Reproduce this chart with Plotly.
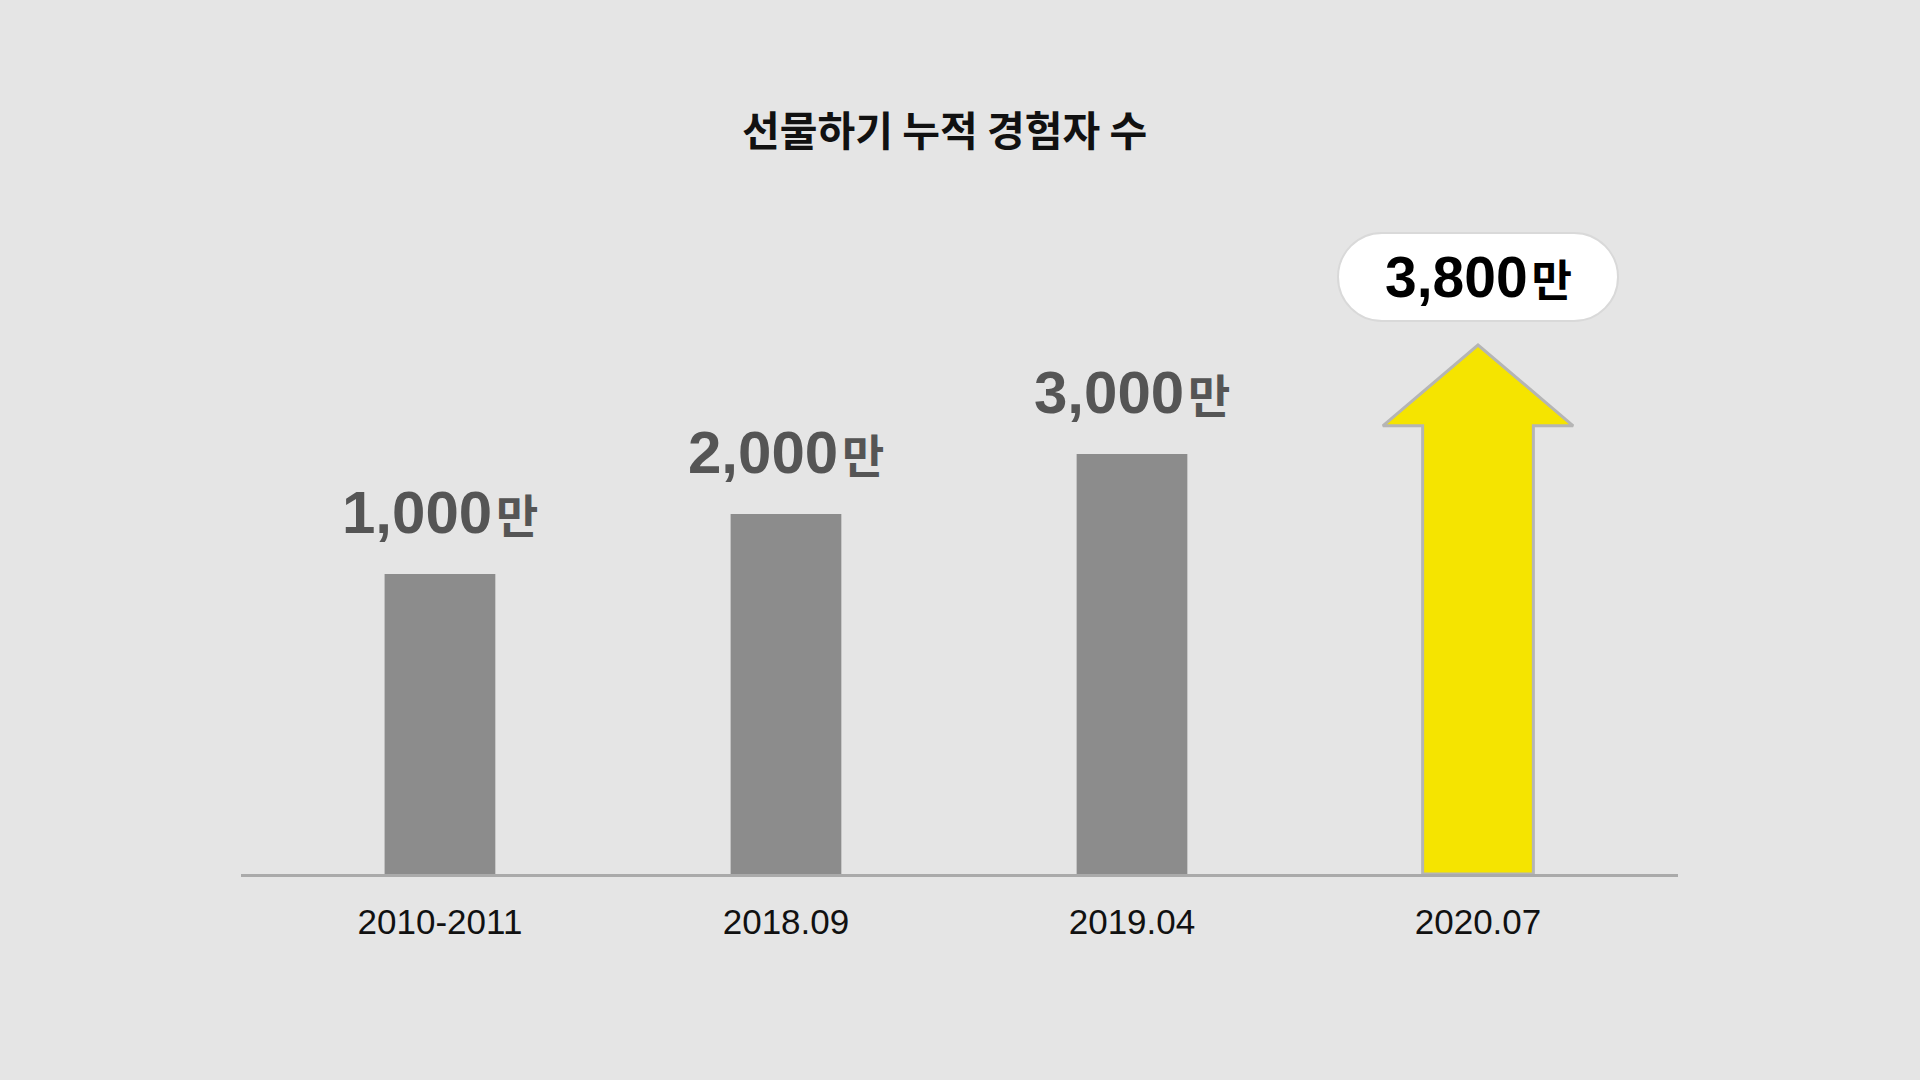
import plotly.graph_objects as go

# values (만 = 10k people)
CATEGORIES = ["2010-2011", "2018.09", "2019.04", "2020.07"]
BAR_VALUES = [1000, 2000, 3000]
ARROW_VALUE = 3800
TITLE = "선물하기 누적 경험자 수"

BG = "#e5e5e5"
BAR = "#8c8c8c"
LABEL = "#555555"
LINE = "#aaaaaa"
YELLOW = "#f5e400"
NUM_FONT = "'Liberation Sans', Arial, 'Noto Sans CJK KR', sans-serif"
KR_FONT = "'Noto Sans CJK KR', 'Noto Sans', sans-serif"

# bars are not drawn from zero: the axis floor sits well below 0
Y_MIN, Y_MAX = -4000, 7567
X_RANGE = [-0.575, 3.578]
BAR_W = 0.32
HEAD_W = 0.275
JOINT_DROP = 330   # arrow head base, below the value
TIP_LIFT = 1017    # arrow tip, above the value
BUBBLE_LIFT = 2150


def label(v, unit=46):
    return ("<b>{:,}<span style='font-size:14px'> </span>"
            "<span style='font-size:{}px'>만</span></b>").format(v, unit)


fig = go.Figure()
xs = list(range(len(BAR_VALUES)))
fig.add_trace(go.Bar(
    x=xs, y=[v - Y_MIN for v in BAR_VALUES], base=Y_MIN, width=BAR_W,
    marker=dict(color=BAR, line=dict(width=0)), hoverinfo="skip"))

# yellow arrow for the latest value
ax = len(BAR_VALUES)
joint = ARROW_VALUE - JOINT_DROP
tip = ARROW_VALUE + TIP_LIFT
hw = BAR_W / 2
fig.add_trace(go.Scatter(
    x=[ax - hw, ax - hw, ax - HEAD_W, ax, ax + HEAD_W, ax + hw, ax + hw, ax - hw],
    y=[Y_MIN, joint, joint, tip, joint, joint, Y_MIN, Y_MIN],
    mode="lines", fill="toself", fillcolor=YELLOW,
    line=dict(color="#b5b5b5", width=3), hoverinfo="skip"))

for i, v in enumerate(BAR_VALUES):
    fig.add_annotation(x=i, y=v, yanchor="bottom", yshift=26, showarrow=False,
                       text=label(v), font=dict(family=NUM_FONT, size=60, color=LABEL))

# white pill with the 3,800 label
bubble_y = tip + BUBBLE_LIFT - TIP_LIFT
fig.add_shape(type="path", xref="x", yref="y", xsizemode="pixel", ysizemode="pixel",
              xanchor=ax, yanchor=bubble_y,
              path="M -96,-44 L 96,-44 C 120.3,-44 140,-24.3 140,0 C 140,24.3 120.3,44 96,44 "
                   "L -96,44 C -120.3,44 -140,24.3 -140,0 C -140,-24.3 -120.3,-44 -96,-44 Z",
              fillcolor="white", line=dict(color="#d9d9d9", width=2), layer="above")
fig.add_annotation(x=ax, y=bubble_y, yanchor="middle", showarrow=False,
                   text=label(ARROW_VALUE, unit=44),
                   font=dict(family=NUM_FONT, size=57, color="#000000"))

fig.update_layout(
    width=1920, height=1080, showlegend=False,
    paper_bgcolor=BG, plot_bgcolor=BG,
    margin=dict(l=241, r=242, t=180, b=206),
    title=dict(text="<b>" + TITLE + "</b>", x=0.492, xanchor="center",
               y=1 - 132 / 1080, yanchor="middle",
               font=dict(family=KR_FONT, size=41, color="#111111")),
)
fig.update_xaxes(range=X_RANGE, tickvals=list(range(len(CATEGORIES))), ticktext=CATEGORIES,
                 showgrid=False, zeroline=False, showline=True, linecolor=LINE, linewidth=3,
                 ticks="", ticklabelstandoff=15,
                 tickfont=dict(family=NUM_FONT, size=35, color="#111111"))
fig.update_yaxes(range=[Y_MIN, Y_MAX], visible=False, showgrid=False, zeroline=False)

# drop the default page margin so the figure fills the window edge to edge
fig.write_html("out.html", config={"displayModeBar": False},
               post_script="document.body.style.margin='0';"
                           "document.body.style.background='#e5e5e5';")
